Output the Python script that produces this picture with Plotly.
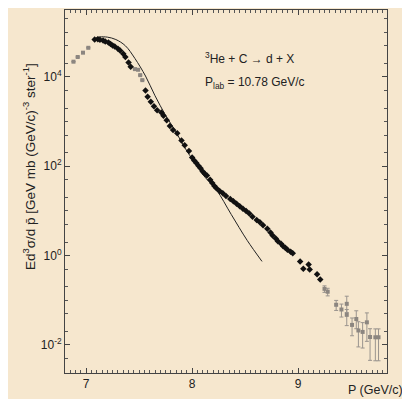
import plotly.graph_objects as go

# Experimental data (black points)
p_black = [7.08, 7.11, 7.13, 7.16, 7.18, 7.21, 7.23, 7.25, 7.27, 7.30, 7.32, 7.35, 7.37, 7.40, 7.42,
           7.56, 7.58, 7.61, 7.64, 7.67, 7.71, 7.73, 7.76, 7.79, 7.82, 7.86, 7.90,
           7.93, 7.97, 8.00, 8.02, 8.04, 8.06, 8.08, 8.10, 8.12, 8.14, 8.17, 8.19, 8.21, 8.23, 8.26,
           8.29, 8.32, 8.36, 8.39, 8.42, 8.45, 8.48, 8.51, 8.54, 8.57, 8.61, 8.64, 8.67, 8.71, 8.74, 8.76,
           8.79, 8.81, 8.84, 8.86, 8.88, 8.90, 8.93, 8.95, 9.02, 9.05, 9.10, 9.11, 9.18, 9.21]
y_black = [6.9e4, 7.0e4, 6.8e4, 6.6e4, 6.2e4, 5.9e4, 5.5e4, 5.1e4, 4.8e4, 4.3e4, 3.9e4, 3.3e4, 2.8e4, 2.1e4, 1.7e4,
           5.0e3, 3.6e3, 2.8e3, 2.2e3, 1.8e3, 1.6e3, 1.35e3, 1.07e3, 800, 650, 550, 380,
           295, 220, 158, 135, 118, 103, 90, 76, 68, 62, 50, 42, 36, 32, 28,
           25, 21.5, 18.6, 16.5, 14.5, 12.8, 11.2, 9.9, 8.7, 7.4, 6.3, 5.6, 4.8, 4.0, 3.3, 2.8,
           2.4, 2.1, 1.85, 1.62, 1.5, 1.35, 1.22, 1.12, 0.74, 0.51, 0.63, 0.49, 0.38, 0.29]

# Experimental data (faint grey points)
p_grey = [6.88, 6.92, 6.97, 7.02, 7.46, 7.49, 7.51, 7.53,
          9.25, 9.28, 9.36, 9.41, 9.46, 9.46, 9.51, 9.55, 9.57, 9.61, 9.65, 9.68, 9.73, 9.76]
y_grey = [2.2e4, 2.8e4, 3.5e4, 4.5e4, 1.5e4, 1.45e4, 1.1e4, 8.5e3,
          0.18, 0.155, 0.079, 0.062, 0.083, 0.047, 0.028, 0.038, 0.021, 0.0195, 0.032, 0.015, 0.0148, 0.0148]
err_plus = [0, 0, 0, 0, 0, 0, 0, 0,
            0.03, 0.03, 0.02, 0.02, 0.04, 0.015, 0.012, 0.02, 0.012, 0.012, 0.02, 0.008, 0.008, 0.008]
err_minus = [0, 0, 0, 0, 0, 0, 0, 0,
             0.03, 0.03, 0.02, 0.02, 0.03, 0.02, 0.012, 0.015, 0.012, 0.011, 0.02, 0.0105, 0.0104, 0.0104]

# Theoretical curve
p_line = [7.07, 7.10, 7.13, 7.20, 7.28, 7.37, 7.46, 7.56, 7.65, 7.75, 7.84, 7.93, 8.03, 8.12, 8.23, 8.37, 8.52, 8.66]
y_line = [6.9e4, 7.6e4, 7.9e4, 7.8e4, 6.9e4, 5.0e4, 2.6e4, 1.05e4, 3.8e3, 1.38e3, 630, 263, 115, 57.5, 29.5, 8.3, 2.19, 0.74]

x_ticks = [7, 8, 9]
y_ticks = [1e-2, 1e0, 1e2, 1e4]
y_tick_text = ["10<sup>-2</sup>", "10<sup>0</sup>", "10<sup>2</sup>", "10<sup>4</sup>"]

bg = "#F6E7CE"
ink = "#222222"
fnt = "Liberation Sans"

fig = go.Figure()
fig.add_trace(go.Scatter(x=p_line, y=y_line, mode="lines", line=dict(color=ink, width=1, shape="spline"),
                         hoverinfo="skip"))
fig.add_trace(go.Scatter(x=p_grey, y=y_grey, mode="markers",
                         marker=dict(symbol="square", size=4, color="#8c8680"),
                         error_y=dict(type="data", symmetric=False, array=err_plus, arrayminus=err_minus,
                                      color="#9a948e", thickness=1, width=2)))
fig.add_trace(go.Scatter(x=p_black, y=y_black, mode="markers",
                         marker=dict(symbol="diamond", size=5, color="#111111")))

axis_common = dict(showline=True, linecolor="#444", linewidth=1, mirror="ticks", ticks="inside",
                   tickcolor="#444", showgrid=False, zeroline=False, automargin=False,
                   tickfont=dict(family=fnt, size=12, color=ink))
fig.update_xaxes(range=[6.80, 9.84], tickvals=x_ticks, ticklen=5,
                 minor=dict(dtick=0.05, ticks="inside", ticklen=3, tickcolor="#555"),
                 **axis_common)
fig.update_yaxes(type="log", range=[-2.63, 5.5], tickvals=y_ticks, ticktext=y_tick_text, ticklen=5,
                 minor=dict(ticks="inside", ticklen=3, tickcolor="#555", showgrid=False),
                 **axis_common)

# the page body has an 8px margin, so the figure is sized and padded to compensate
fig.update_layout(width=402, height=391, showlegend=False,
                  paper_bgcolor=bg, plot_bgcolor=bg,
                  margin=dict(l=57, r=23, t=2, b=26),
                  font=dict(family=fnt, color=ink))

fig.add_annotation(x=0.43, y=0.895, xref="paper", yref="paper", xanchor="left", showarrow=False,
                   text="<sup>3</sup>He + C → d + X", font=dict(size=12, family=fnt, color=ink))
fig.add_annotation(x=0.43, y=0.826, xref="paper", yref="paper", xanchor="left", showarrow=False,
                   text="P<sub>lab</sub> = 10.78 GeV/c", font=dict(size=12, family=fnt, color=ink))
fig.add_annotation(x=1.056, y=-0.022, xref="paper", yref="paper", xanchor="right", yanchor="top",
                   showarrow=False, text="P (GeV/c)", font=dict(size=12.5, family=fnt, color=ink))
fig.add_annotation(x=-0.146, y=0.57, xref="paper", yref="paper", textangle=-90, showarrow=False,
                   text="Ed<sup>3</sup>σ/d p̄ [GeV mb (GeV/c)<sup>-3</sup> ster<sup>-1</sup>]",
                   font=dict(size=13.5, family=fnt, color=ink))

fig.write_html("out.html")
